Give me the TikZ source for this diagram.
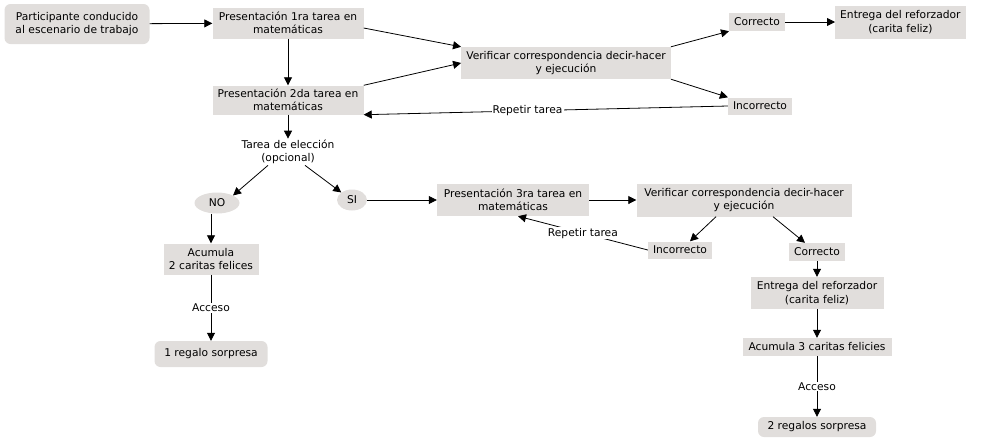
\documentclass[tikz,border=0pt]{standalone}
\usepackage{fontspec}
\setmainfont{DejaVu Sans}
\usetikzlibrary{positioning,calc,arrows.meta,shapes.geometric}
\definecolor{boxgray}{RGB}{225,222,220}

\begin{document}
\begin{tikzpicture}[x=1pt,y=-1pt,
		font=\fontsize{10.7}{13.5}\selectfont,
		box/.style={fill=boxgray,align=center,inner xsep=5pt,inner ysep=3pt,minimum height=18pt},
		rbox/.style={box,rounded corners=6pt},
		oval/.style={ellipse,fill=boxgray,inner sep=1pt,minimum height=21pt},
		arr/.style={-{Triangle[length=8pt,width=8pt]},line width=0.8pt},
		lbl/.style={fill=white,inner sep=1pt}]
		\useasboundingbox (0,0) rectangle (984,440);
		%
		\node[rbox,minimum width=145pt,minimum height=40pt] (p0) at (77,24) {Participante conducido\\al escenario de trabajo};
		\node[box,minimum width=151pt,minimum height=31pt] (p1) at (288,23) {Presentación 1ra tarea en\\matemáticas};
		\node[box,minimum width=151pt,minimum height=29pt] (p2) at (288,100) {Presentación 2da tarea en\\matemáticas};
		\node[box,minimum width=207pt,minimum height=32pt] (v1) at (566,63) {Verificar correspondencia decir-hacer\\y ejecución};
		\node[box] (c1) at (757,22) {Correcto};
		\node[box,minimum height=33pt,right=50pt of c1] (r1) {Entrega del reforzador\\(carita feliz)};
		\node[box,minimum height=17pt] (i1) at (760,106) {Incorrecto};
		\node[align=center,inner sep=1pt] (tar) at (288,152) {Tarea de elección\\(opcional)};
		\node[oval,minimum width=45pt] (no) at (217,203) {NO};
		\node[oval,minimum width=30pt] (si) at (352,200) {SI};
		\node[box,minimum width=152pt,minimum height=32pt] (p3) at (513,200) {Presentación 3ra tarea en\\matemáticas};
		\node[box,minimum width=215pt,minimum height=33pt] (v2) at (744,200) {Verificar correspondencia decir-hacer\\y ejecución};
		\node[box,minimum height=17pt] (i2) at (680,250) {Incorrecto};
		\node[box] (c2) at (817,252) {Correcto};
		\node[box,minimum width=133pt,minimum height=32pt] (r2) at (817,293) {Entrega del reforzador\\(carita feliz)};
		\node[box,minimum width=149pt] (a3) at (817,347) {Acumula 3 caritas felicies};
		\node[rbox,minimum width=118pt,minimum height=20pt] (s2) at (817,427) {2 regalos sorpresa};
		\node[box,minimum width=95pt,minimum height=31pt] (a2) at (211,259) {Acumula\\2 caritas felices};
		\node[rbox,minimum width=113pt,minimum height=26pt] (s1) at (211,354) {1 regalo sorpresa};
		%
		\draw[arr] (p0) -- (p1);
		\draw[arr] ([yshift=-5pt]p1.east) -- (v1.north west);
		\draw[arr] (p1) -- (p2);
		\draw[arr] (p2.north east) -- (v1.west);
		\draw[arr] (v1.north east) -- (c1.south west);
		\draw[arr] (c1) -- (r1);
		\draw[arr] (v1.south east) -- (i1.north west);
		\draw[arr] (i1.west) -- node[lbl,pos=0.55] {Repetir tarea} (p2.south east);
		\draw[arr] (p2) -- (tar);
		\draw[arr] ([xshift=-20pt]tar.south) -- (no.north east);
		\draw[arr] ([xshift=17pt]tar.south) -- (si.north west);
		\draw[arr] (si) -- (p3);
		\draw[arr] (p3) -- (v2);
		\draw[arr] ([xshift=-28pt]v2.south) -- ([xshift=10pt]i2.north);
		\draw[arr] ([xshift=29pt]v2.south) -- ([xshift=-12pt]c2.north);
		\draw[arr] (i2.west) -- node[lbl] {Repetir tarea} ([xshift=5pt]p3.south);
		\draw[arr] (c2) -- (r2);
		\draw[arr] (r2) -- (a3);
		\draw[arr] (a3) -- node[lbl] {Acceso} (s2);
		\draw[arr] (no.south -| a2.north) -- (a2);
		\draw[arr] (a2) -- node[lbl] {Acceso} (s1);
\end{tikzpicture}
\end{document}
